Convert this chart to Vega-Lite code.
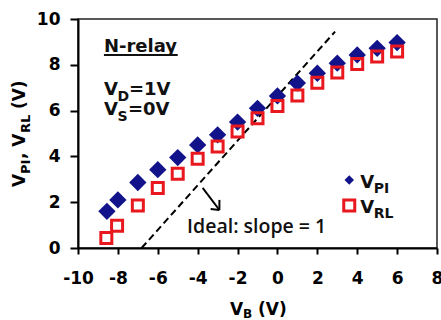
{
  "$schema": "https://vega.github.io/schema/vega-lite/v6.json",
  "width": 359,
  "height": 229,
  "autosize": {"type": "none"},
  "padding": {"left": 78, "top": 19, "right": 4, "bottom": 72},
  "background": "white",
  "data": {"values": [{}]},
  "config": {
    "view": {"stroke": "#222222", "strokeWidth": 1.5},
    "font": "DejaVu Sans",
    "axis": {"grid": false, "domainColor": "black", "domainWidth": 2, "tickColor": "black", "tickWidth": 2,
      "labelFont": "DejaVu Sans", "labelFontWeight": "bold", "labelFontSize": 17, "labelColor": "black",
      "labelFlush": false, "labelOverlap": false, "labelSeparation": 0,
      "labelExpr": "datum.value < 0 ? '-' + abs(datum.value) : '' + datum.value"},
    "axisX": {"tickSize": 6, "labelPadding": 16},
    "axisY": {"tickSize": 8, "labelPadding": 10}
  },
  "datasets": {
    "vpi": [
      {"VB": -8.55, "V": 1.6}, {"VB": -8.0, "V": 2.1}, {"VB": -7.0, "V": 2.86},
      {"VB": -6.0, "V": 3.42}, {"VB": -5.0, "V": 3.95}, {"VB": -4.0, "V": 4.5},
      {"VB": -3.0, "V": 4.94}, {"VB": -2.0, "V": 5.5}, {"VB": -1.0, "V": 6.1},
      {"VB": 0.0, "V": 6.64}, {"VB": 1.0, "V": 7.2}, {"VB": 2.0, "V": 7.63},
      {"VB": 3.0, "V": 8.07}, {"VB": 4.0, "V": 8.43}, {"VB": 5.0, "V": 8.72},
      {"VB": 6.0, "V": 8.97}
    ],
    "vrl": [
      {"VB": -8.58, "V": 0.44}, {"VB": -8.04, "V": 0.97}, {"VB": -7.0, "V": 1.86},
      {"VB": -6.0, "V": 2.62}, {"VB": -5.0, "V": 3.24}, {"VB": -4.0, "V": 3.9},
      {"VB": -3.0, "V": 4.43}, {"VB": -2.0, "V": 5.09}, {"VB": -1.0, "V": 5.67},
      {"VB": 0.0, "V": 6.2}, {"VB": 1.0, "V": 6.66}, {"VB": 2.0, "V": 7.22},
      {"VB": 3.0, "V": 7.66}, {"VB": 4.0, "V": 8.04}, {"VB": 5.0, "V": 8.36},
      {"VB": 6.0, "V": 8.58}
    ]
  },
  "layer": [
    {
      "mark": {"type": "rule", "color": "black", "strokeWidth": 2, "strokeDash": [7, 4]},
      "encoding": {
        "x": {"datum": -6.81, "type": "quantitative",
          "scale": {"domain": [-10, 8], "nice": false, "zero": false},
          "axis": {"values": [-10, -8, -6, -4, -2, 0, 2, 4, 6, 8], "tickCount": 20, "title": null, "labelOverlap": false, "labelSeparation": 0}},
        "y": {"datum": 0, "type": "quantitative",
          "scale": {"domain": [0, 10], "nice": false},
          "axis": {"values": [0, 2, 4, 6, 8, 10], "tickCount": 20, "title": null, "labelOverlap": false}},
        "x2": {"datum": 2.89}, "y2": {"datum": 9.45}}
    },
    {
      "data": {"name": "vpi"},
      "mark": {"type": "point", "shape": "diamond", "filled": true, "color": "#12128a", "size": 300, "opacity": 1},
      "encoding": {
        "x": {"field": "VB", "type": "quantitative"},
        "y": {"field": "V", "type": "quantitative"}
      }
    },
    {
      "data": {"name": "vrl"},
      "mark": {"type": "point", "shape": "square", "filled": false, "stroke": "#e8181e", "strokeWidth": 3, "size": 121, "opacity": 1},
      "encoding": {
        "x": {"field": "VB", "type": "quantitative"},
        "y": {"field": "V", "type": "quantitative"}
      }
    },
    {
      "mark": {"type": "rule", "color": "black", "strokeWidth": 2},
      "encoding": {"x": {"datum": -3.75}, "y": {"datum": 2.63}, "x2": {"datum": -2.91}, "y2": {"datum": 1.66}}
    },
    {
      "mark": {"type": "rule", "color": "black", "strokeWidth": 2},
      "encoding": {"x": {"datum": -2.91}, "y": {"datum": 1.66}, "x2": {"datum": -2.91}, "y2": {"datum": 2.1}}
    },
    {
      "mark": {"type": "rule", "color": "black", "strokeWidth": 2},
      "encoding": {"x": {"datum": -2.91}, "y": {"datum": 1.66}, "x2": {"datum": -3.35}, "y2": {"datum": 1.7}}
    },
    {
      "mark": {"type": "text", "text": "Ideal: slope = 1", "align": "left", "baseline": "alphabetic", "font": "Open Sans", "fontWeight": 600, "fontSize": 19.5, "color": "#111111"},
      "encoding": {"x": {"datum": -4.53}, "y": {"datum": 0.66}}
    },
    {
      "mark": {"type": "text", "text": "N-relay", "align": "left", "baseline": "alphabetic", "fontWeight": "bold", "fontSize": 18, "color": "#111111"},
      "encoding": {"x": {"datum": -8.7}, "y": {"datum": 8.56}}
    },
    {
      "mark": {"type": "rule", "color": "#111111", "strokeWidth": 2},
      "encoding": {"x": {"datum": -8.7}, "y": {"datum": 8.43}, "x2": {"datum": -5.0}, "y2": {"datum": 8.43}}
    },
    {
      "mark": {"type": "text", "text": "V", "align": "left", "baseline": "alphabetic", "fontWeight": "bold", "fontSize": 18, "color": "#111111"},
      "encoding": {"x": {"datum": -8.7}, "y": {"datum": 6.68}}
    },
    {
      "mark": {"type": "text", "text": "D", "align": "left", "baseline": "alphabetic", "fontWeight": "bold", "fontSize": 14, "dx": 13.5, "dy": 6, "color": "#111111"},
      "encoding": {"x": {"datum": -8.7}, "y": {"datum": 6.68}}
    },
    {
      "mark": {"type": "text", "text": "=1V", "align": "left", "baseline": "alphabetic", "fontWeight": "bold", "fontSize": 18, "dx": 25, "color": "#111111"},
      "encoding": {"x": {"datum": -8.7}, "y": {"datum": 6.68}}
    },
    {
      "mark": {"type": "text", "text": "V", "align": "left", "baseline": "alphabetic", "fontWeight": "bold", "fontSize": 18, "color": "#111111"},
      "encoding": {"x": {"datum": -8.7}, "y": {"datum": 5.81}}
    },
    {
      "mark": {"type": "text", "text": "S", "align": "left", "baseline": "alphabetic", "fontWeight": "bold", "fontSize": 14, "dx": 13.5, "dy": 6, "color": "#111111"},
      "encoding": {"x": {"datum": -8.7}, "y": {"datum": 5.81}}
    },
    {
      "mark": {"type": "text", "text": "=0V", "align": "left", "baseline": "alphabetic", "fontWeight": "bold", "fontSize": 18, "dx": 24, "color": "#111111"},
      "encoding": {"x": {"datum": -8.7}, "y": {"datum": 5.81}}
    },
    {
      "mark": {"type": "point", "shape": "diamond", "filled": true, "color": "#12128a", "size": 90, "opacity": 1},
      "encoding": {"x": {"datum": 3.6}, "y": {"datum": 2.97}}
    },
    {
      "mark": {"type": "point", "shape": "square", "filled": false, "stroke": "#e8181e", "strokeWidth": 3, "size": 121, "opacity": 1},
      "encoding": {"x": {"datum": 3.6}, "y": {"datum": 1.86}}
    },
    {
      "mark": {"type": "text", "text": "V", "align": "left", "baseline": "alphabetic", "fontWeight": "bold", "fontSize": 18, "color": "#111111"},
      "encoding": {"x": {"datum": 4.15}, "y": {"datum": 2.6}}
    },
    {
      "mark": {"type": "text", "text": "PI", "align": "left", "baseline": "alphabetic", "fontWeight": "bold", "fontSize": 14, "dx": 13.5, "dy": 5, "color": "#111111"},
      "encoding": {"x": {"datum": 4.15}, "y": {"datum": 2.6}}
    },
    {
      "mark": {"type": "text", "text": "V", "align": "left", "baseline": "alphabetic", "fontWeight": "bold", "fontSize": 18, "color": "#111111"},
      "encoding": {"x": {"datum": 4.15}, "y": {"datum": 1.53}}
    },
    {
      "mark": {"type": "text", "text": "RL", "align": "left", "baseline": "alphabetic", "fontWeight": "bold", "fontSize": 14, "dx": 13.5, "dy": 5, "color": "#111111"},
      "encoding": {"x": {"datum": 4.15}, "y": {"datum": 1.53}}
    },
    {
      "mark": {"type": "text", "text": "V", "align": "left", "baseline": "alphabetic", "fontWeight": "bold", "fontSize": 17, "color": "black"},
      "encoding": {"x": {"datum": -2.38}, "y": {"datum": -2.93}}
    },
    {
      "mark": {"type": "text", "text": "B", "align": "left", "baseline": "alphabetic", "fontWeight": "bold", "fontSize": 12, "dx": 13, "dy": 3, "color": "black"},
      "encoding": {"x": {"datum": -2.38}, "y": {"datum": -2.93}}
    },
    {
      "mark": {"type": "text", "text": "(V)", "align": "left", "baseline": "alphabetic", "fontWeight": "bold", "fontSize": 17, "dx": 28, "color": "black"},
      "encoding": {"x": {"datum": -2.38}, "y": {"datum": -2.93}}
    },
    {
      "mark": {"type": "text", "text": "V", "align": "left", "baseline": "alphabetic", "angle": 270, "fontWeight": "bold", "fontSize": 17, "color": "black"},
      "encoding": {"x": {"datum": -12.66}, "y": {"datum": 2.66}}
    },
    {
      "mark": {"type": "text", "text": "PI", "align": "left", "baseline": "alphabetic", "angle": 270, "fontWeight": "bold", "fontSize": 13, "dx": 13, "dy": 5, "color": "black"},
      "encoding": {"x": {"datum": -12.66}, "y": {"datum": 2.66}}
    },
    {
      "mark": {"type": "text", "text": ", V", "align": "left", "baseline": "alphabetic", "angle": 270, "fontWeight": "bold", "fontSize": 17, "dx": 28, "color": "black"},
      "encoding": {"x": {"datum": -12.66}, "y": {"datum": 2.66}}
    },
    {
      "mark": {"type": "text", "text": "RL", "align": "left", "baseline": "alphabetic", "angle": 270, "fontWeight": "bold", "fontSize": 13, "dx": 54, "dy": 5, "color": "black"},
      "encoding": {"x": {"datum": -12.66}, "y": {"datum": 2.66}}
    },
    {
      "mark": {"type": "text", "text": "(V)", "align": "left", "baseline": "alphabetic", "angle": 270, "fontWeight": "bold", "fontSize": 17, "dx": 78, "color": "black"},
      "encoding": {"x": {"datum": -12.66}, "y": {"datum": 2.66}}
    }
  ]
}
